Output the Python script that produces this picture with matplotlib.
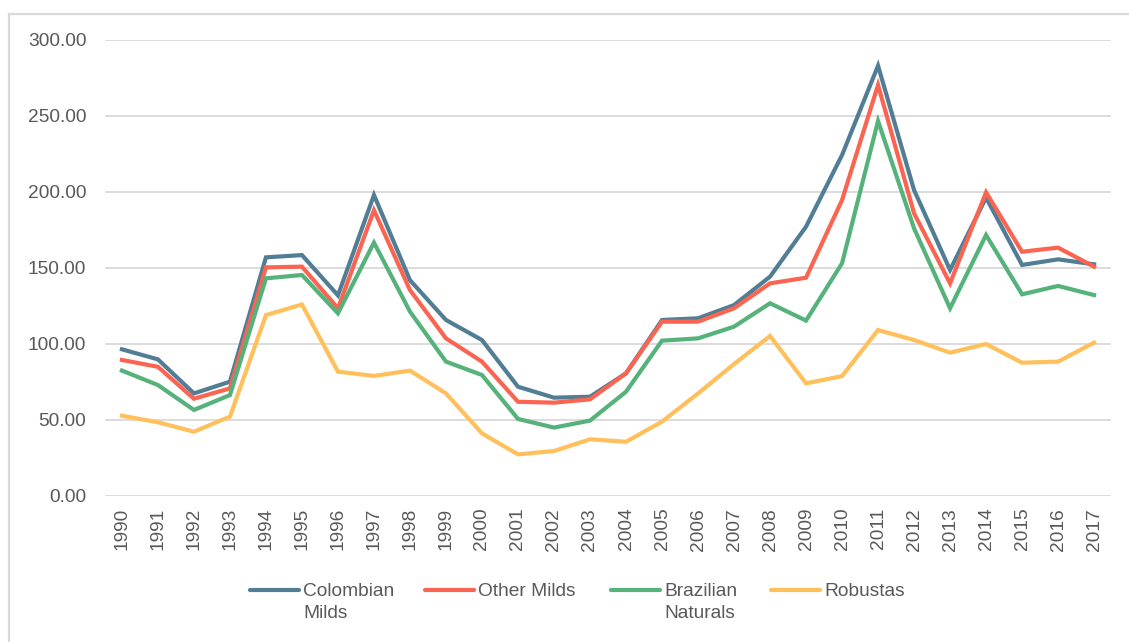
import matplotlib
matplotlib.use("Agg")
import matplotlib.pyplot as plt
from matplotlib.lines import Line2D

years = list(range(1990, 2018))
colombian_milds = [96.5, 89.9, 67.5, 75.2, 157.0, 158.5, 132.0, 198.0, 142.0, 115.8,
                   102.6, 71.9, 64.7, 65.3, 80.7, 115.8, 116.9, 125.6, 144.3, 177.2,
                   224.3, 283.1, 201.3, 148.7, 196.3, 152.0, 155.7, 152.4]
other_milds = [89.5, 85.0, 64.0, 70.8, 150.4, 150.9, 123.5, 188.0, 135.5, 103.7,
               88.4, 62.0, 61.4, 63.6, 80.7, 114.7, 114.7, 123.5, 139.9, 143.6,
               194.7, 270.4, 186.0, 139.9, 199.8, 160.7, 163.4, 150.9]
brazilian_naturals = [82.5, 73.0, 56.6, 66.4, 143.2, 145.4, 120.2, 166.7, 121.3, 88.4,
                      79.6, 50.7, 45.0, 49.6, 68.6, 102.2, 103.7, 111.4, 126.8, 115.4,
                      153.1, 246.7, 176.1, 123.5, 171.7, 132.7, 138.2, 132.2]
robustas = [52.8, 48.5, 42.3, 52.2, 119.0, 126.0, 81.8, 79.0, 82.5, 67.5,
            41.2, 27.4, 29.6, 37.3, 35.7, 48.9, 67.5, 86.8, 105.3, 74.1,
            78.9, 109.2, 102.6, 94.3, 100.0, 87.7, 88.4, 100.9]

series_labels = ["Colombian\nMilds", "Other Milds", "Brazilian\nNaturals", "Robustas"]
series_values = [colombian_milds, other_milds, brazilian_naturals, robustas]
colors = ["#517D95", "#FA6450", "#55B27A", "#FFC05C"]
y_ticks = [0, 50, 100, 150, 200, 250, 300]

W, H = 1129, 642
fig = plt.figure(figsize=(W / 100, H / 100), dpi=100)
plt.rcParams['font.family'] = ['Liberation Sans', 'DejaVu Sans']
txt_color = "#595959"
fs = 13.8

ax = fig.add_axes([105 / W, 1 - 496 / H, (1111 - 105) / W, (496 - 40) / H])
x = list(range(len(years)))
for vals, c in zip(series_values, colors):
    ax.plot(x, vals, color=c, lw=3.0, solid_joinstyle='miter', zorder=3)

ax.set_xlim(-0.47, len(years) - 0.53)
ax.set_ylim(0, 300)
ax.set_yticks(y_ticks)
ax.set_yticklabels([f"{v:.2f}" for v in y_ticks], fontsize=fs, color=txt_color)
ax.set_xticks(x)
ax.set_xticklabels([str(y) for y in years], rotation=90, fontsize=fs, color=txt_color)
ax.tick_params(axis='both', length=0)
ax.tick_params(axis='y', pad=13.5)
ax.tick_params(axis='x', pad=8.5)
ax.grid(axis='y', color="#D9D9D9", lw=1.3, zorder=0)
for s in ax.spines.values():
    s.set_visible(False)

# outer frame (top and left edges visible)
fig.add_artist(Line2D([9 / W, 9 / W], [-0.1, 1 - 14 / H], transform=fig.transFigure,
                      color="#D9D9D9", lw=1.6))
fig.add_artist(Line2D([9 / W, 1.1], [1 - 14 / H, 1 - 14 / H], transform=fig.transFigure,
                      color="#D9D9D9", lw=1.6))

# legend
handle_x = [250, 425, 611, 771]
ly = 590
for hx, lab, c in zip(handle_x, series_labels, colors):
    fig.add_artist(Line2D([hx / W, (hx + 49) / W], [1 - ly / H, 1 - ly / H],
                          transform=fig.transFigure, color=c, lw=3.0,
                          solid_capstyle='round'))
    fig.text((hx + 53) / W, 1 - 583 / H, lab, fontsize=fs, color=txt_color,
             ha='left', va='top', linespacing=1.38)

fig.savefig("out.png", dpi=100)
